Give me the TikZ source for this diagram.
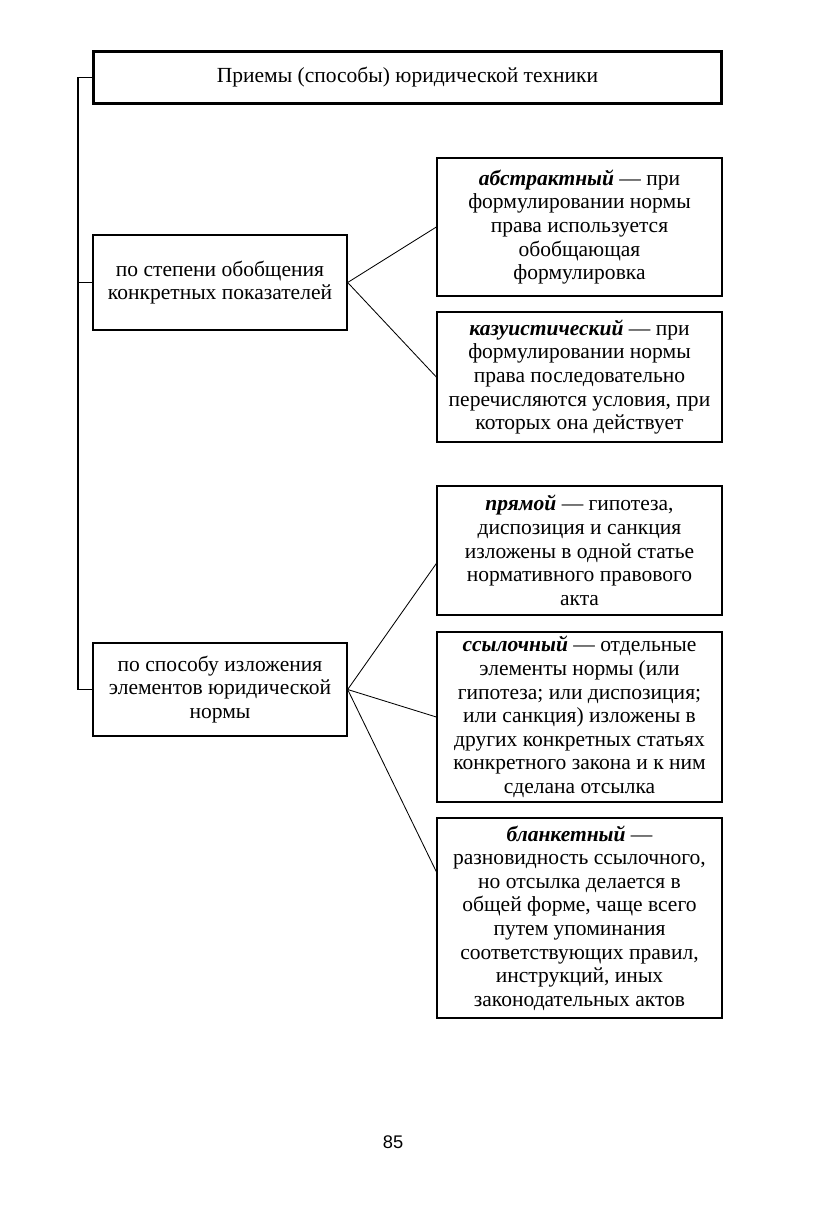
\documentclass[tikz,border=0pt]{standalone}
\usepackage{fontspec}
\setmainfont{Liberation Serif}
\newfontfamily\pagefont{Liberation Sans}
\usetikzlibrary{calc}

\newcommand{\term}[1]{\textbf{\textit{#1}}}

\tikzset{
  bodyfont/.style={font=\fontsize{15.3}{16.8}\selectfont},
  headbox/.style={draw, line width=2.6pt, minimum width=15.7cm, minimum height=1.3cm, bodyfont},
  groupbox/.style={draw, line width=0.9pt, minimum width=6.35cm, align=center, inner sep=0pt, bodyfont},
  kindbox/.style={draw, line width=0.9pt, minimum width=7.125cm, align=center, inner sep=0pt, bodyfont},
  link/.style={line width=0.6pt},
  trunk/.style={line width=1.3pt}
}

\begin{document}
\begin{tikzpicture}[x=0.025cm, y=-0.025cm]

\useasboundingbox (0,0) rectangle (817,1225);

% Title
\node[headbox] (title) at (407.5, 77.5) {Приемы (способы) юридической техники};

% Groups
\node[groupbox, minimum height=2.375cm] (degree) at (220, 282.5) {по степени обобщения\\конкретных показателей};
\node[groupbox, minimum height=2.325cm] (manner) at (220, 689.5) {по способу изложения\\элементов юридической\\нормы};

% Kinds, first group
\node[kindbox, minimum height=3.45cm] (abstr) at (579.5, 227) {
  \term{абстрактный} — при\\
  формулировании нормы\\
  права используется\\
  обобщающая\\
  формулировка};
\node[kindbox, minimum height=3.25cm] (casuist) at (579.5, 377) {
  \term{казуистический} — при\\
  формулировании нормы\\
  права последовательно\\
  перечисляются условия, при\\
  которых она действует};

% Kinds, second group
\node[kindbox, minimum height=3.225cm] (direct) at (579.5, 550.5) {
  \term{прямой} — гипотеза,\\
  диспозиция и санкция\\
  изложены в одной статье\\
  нормативного правового\\
  акта};
\node[kindbox, minimum height=4.25cm] (refer) at (579.5, 717) {
  \term{ссылочный} — отдельные\\
  элементы нормы (или\\
  гипотеза; или диспозиция;\\
  или санкция) изложены в\\
  других конкретных статьях\\
  конкретного закона и к ним\\
  сделана отсылка};
\node[kindbox, minimum height=5cm] (blank) at (579.5, 918) {
  \term{бланкетный} —\\
  разновидность ссылочного,\\
  но отсылка делается в\\
  общей форме, чаще всего\\
  путем упоминания\\
  соответствующих правил,\\
  инструкций, иных\\
  законодательных актов};

% Trunk from title to groups
\coordinate (spine) at (78, 77.5);
\draw[trunk] (title.west) -- (spine) |- (manner.west);
\draw[trunk] (spine |- degree.west) -- (degree.west);

% Links
\draw[link] (degree.east) -- (abstr.west);
\draw[link] (degree.east) -- (casuist.west);
\draw[link] (manner.east) -- ($(direct.north west)!0.6!(direct.south west)$);
\draw[link] (manner.east) -- (refer.west);
\draw[link] (manner.east) -- ($(blank.north west)!0.27!(blank.south west)$);

% Page number
\node[font=\pagefont\fontsize{13}{15}\selectfont] (pagenum) at (393, 1142) {85};

\end{tikzpicture}
\end{document}
